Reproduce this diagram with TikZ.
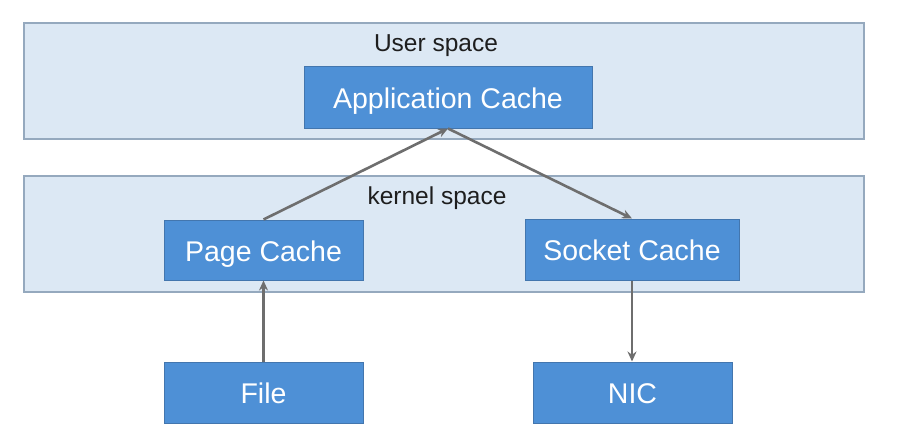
\documentclass[tikz,border=0pt]{standalone}
\usepackage{fontspec}
\setmainfont{Liberation Sans}
\usetikzlibrary{arrows.meta}
\definecolor{bandfill}{HTML}{DCE8F4}
\definecolor{banddraw}{HTML}{95A9BE}
\definecolor{boxfill}{HTML}{4E90D6}
\definecolor{boxdraw}{HTML}{4376AE}
\definecolor{arrowcol}{HTML}{6E6E6E}
\definecolor{labelcol}{HTML}{1E1E1E}
\tikzset{
  band/.style={draw=banddraw, fill=bandfill, line width=1.6pt, minimum width=840pt, minimum height=116pt, inner sep=0pt},
  bandlabel/.style={text=labelcol, font=\fontsize{24.5}{26}\selectfont, inner sep=0pt, anchor=base},
  cachebox/.style={draw=boxdraw, fill=boxfill, line width=1pt, text=white, font=\fontsize{28.5}{30}\selectfont, inner sep=0pt, minimum height=61pt, text height=22pt, text depth=0pt},
  conn/.style={draw=arrowcol, line width=2.6pt, -{Stealth[length=10pt,width=9pt]}}
}
\begin{document}
\begin{tikzpicture}[x=1pt,y=-1pt]
\useasboundingbox (0,0) rectangle (919,444);
\fill[white] (0,0) rectangle (919,444);
\node[band] (user) at (444,81) {};
\node[band] (kernel) at (444,234) {};
\node[bandlabel] (userlbl) at (436,52) {User space};
\node[bandlabel] (kernlbl) at (437,204) {kernel space};
\node[cachebox, minimum width=288pt] (app) at (448,97.5) {Application Cache};
\node[cachebox, minimum width=199pt, minimum height=60pt] (page) at (263.5,250) {Page Cache};
\node[cachebox, minimum width=214pt] (sock) at (632,249.5) {Socket Cache};
\node[cachebox, minimum width=199pt] (file) at (263.5,392.5) {File};
\node[cachebox, minimum width=199pt] (nic) at (632.5,392.5) {NIC};
\draw[conn] (page.north) -- (app.south);
\draw[conn] (app.south) -- (sock.north);
\draw[conn] (file.north) -- (page.south);
\draw[conn] (sock.south) -- (sock.south |- nic.north);
\end{tikzpicture}
\end{document}
